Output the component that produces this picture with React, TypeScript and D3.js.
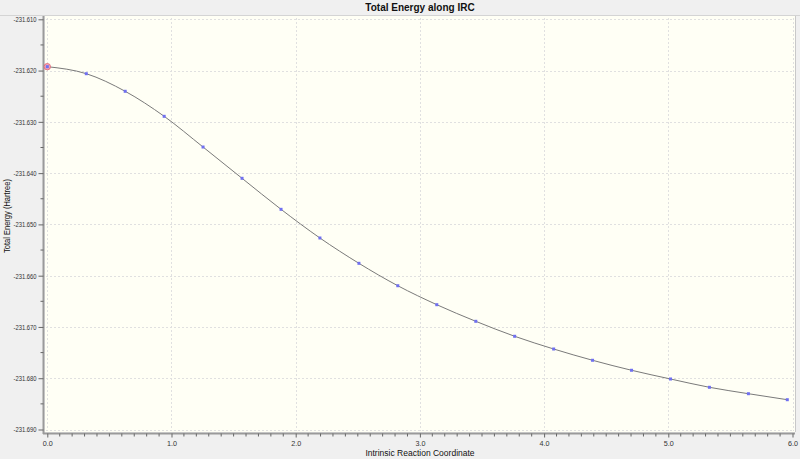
import { useEffect, useRef } from 'react';
import * as d3 from 'd3';

const ircCoord = [
  0.0, 0.314, 0.627, 0.941, 1.254, 1.568, 1.882, 2.195, 2.509, 2.822,
  3.136, 3.45, 3.763, 4.077, 4.39, 4.704, 5.018, 5.331, 5.645, 5.958,
];
const totalEnergy = [
  -231.61924, -231.62061, -231.62404, -231.62892, -231.63491, -231.64101,
  -231.64706, -231.65265, -231.65759, -231.66196, -231.66566, -231.6689,
  -231.67182, -231.6743, -231.6765, -231.67845, -231.68015, -231.68177,
  -231.68302, -231.68419,
];
const xTicks = [0, 1, 2, 3, 4, 5, 6];
const yTicks = [-231.61, -231.62, -231.63, -231.64, -231.65, -231.66, -231.67, -231.68, -231.69];

const W = 800;
const H = 459;
const FONT = '"Liberation Sans", Arial, sans-serif';

export default function App() {
  const svgRef = useRef<SVGSVGElement | null>(null);

  useEffect(() => {
    const el = svgRef.current;
    if (!el) return;
    const svg = d3.select(el);
    svg.selectAll('*').remove();

    const plot = { left: 45, right: 795, top: 16, bottom: 432 };
    const x = d3.scaleLinear().domain([0, 6]).range([47.3, 792.5]);
    const y = d3.scaleLinear().domain([-231.69, -231.61]).range([429.5, 19.3]);
    const fmtY = (d: number) => d.toFixed(3);

    // background
    svg.append('rect').attr('width', W).attr('height', H).attr('fill', '#f0f0f0');
    svg.append('line')
      .attr('x1', 0).attr('x2', W).attr('y1', 15.5).attr('y2', 15.5)
      .attr('stroke', '#d4d4d4');
    svg.append('rect')
      .attr('x', plot.left).attr('y', plot.top)
      .attr('width', plot.right - plot.left).attr('height', plot.bottom - plot.top)
      .attr('fill', '#fffff5');
    svg.append('line')
      .attr('x1', plot.right + 0.5).attr('x2', plot.right + 0.5)
      .attr('y1', plot.top).attr('y2', plot.bottom)
      .attr('stroke', '#c8c8c8');

    // title
    svg.append('text')
      .attr('x', 420).attr('y', 11)
      .attr('text-anchor', 'middle')
      .attr('font-family', FONT).attr('font-size', 10).attr('font-weight', 'bold')
      .attr('fill', '#111')
      .text('Total Energy along IRC');

    // grid
    const grid = svg.append('g')
      .attr('stroke', '#e0e0e0').attr('stroke-dasharray', '2,2').attr('stroke-width', 1);
    xTicks.forEach((t) => {
      grid.append('line')
        .attr('x1', Math.round(x(t)) + 0.5).attr('x2', Math.round(x(t)) + 0.5)
        .attr('y1', plot.top + 2).attr('y2', plot.bottom - 1);
    });
    yTicks.forEach((t) => {
      grid.append('line')
        .attr('x1', plot.left + 1).attr('x2', plot.right - 1)
        .attr('y1', Math.round(y(t)) + 0.5).attr('y2', Math.round(y(t)) + 0.5);
    });

    // y axis
    const yAxis = svg.append('g')
      .attr('transform', 'translate(43.5,0)')
      .call(d3.axisLeft(y).tickValues(yTicks).tickSize(5).tickPadding(2).tickFormat(fmtY as any));
    yAxis.select('.domain').attr('stroke', '#9a9a9a').attr('stroke-width', 2)
      .attr('d', `M0,${plot.top}V${plot.bottom + 2}`);
    yAxis.selectAll('.tick line').attr('stroke', '#666');
    yAxis.selectAll('.tick text')
      .attr('font-family', FONT).attr('font-size', 7.5).attr('fill', '#333')
      .attr('textLength', 23).attr('lengthAdjust', 'spacingAndGlyphs');
    yAxis.append('g').selectAll('line')
      .data(yTicks.slice(1).map((t) => t + 0.005))
      .join('line')
      .attr('x1', -3).attr('x2', 0)
      .attr('y1', (d) => y(d)).attr('y2', (d) => y(d))
      .attr('stroke', '#666');

    // x axis
    const xAxis = svg.append('g')
      .attr('transform', 'translate(0,433.5)')
      .call(d3.axisBottom(x).tickValues(xTicks).tickSize(4).tickPadding(3).tickFormat(d3.format('.1f')));
    xAxis.select('.domain').attr('stroke', '#9a9a9a').attr('stroke-width', 2)
      .attr('d', `M${plot.left - 2},0H${plot.right}`);
    xAxis.selectAll('.tick line').attr('stroke', '#666');
    xAxis.selectAll('.tick text')
      .attr('font-family', FONT).attr('font-size', 7.5).attr('fill', '#333')
      .attr('textLength', 10).attr('lengthAdjust', 'spacingAndGlyphs');
    xAxis.append('g').selectAll('line')
      .data(d3.range(0, 61).filter((i) => i % 10 !== 0).map((i) => i / 10))
      .join('line')
      .attr('x1', (d) => x(d)).attr('x2', (d) => x(d))
      .attr('y1', 0).attr('y2', 3)
      .attr('stroke', '#666');

    // axis titles
    svg.append('text')
      .attr('x', 420).attr('y', 456)
      .attr('text-anchor', 'middle')
      .attr('font-family', FONT).attr('font-size', 8.5).attr('fill', '#111')
      .text('Intrinsic Reaction Coordinate');
    svg.append('text')
      .attr('transform', 'translate(10,216) rotate(-90)')
      .attr('text-anchor', 'middle')
      .attr('font-family', FONT).attr('font-size', 8.5).attr('fill', '#111')
      .attr('textLength', 74).attr('lengthAdjust', 'spacingAndGlyphs')
      .text('Total Energy (Hartree)');

    // data
    const data = ircCoord.map((c, i) => ({ c, e: totalEnergy[i] }));
    const line = d3.line<{ c: number; e: number }>()
      .x((d) => x(d.c))
      .y((d) => y(d.e))
      .curve(d3.curveMonotoneX);
    svg.append('path')
      .datum(data)
      .attr('fill', 'none')
      .attr('stroke', '#7a7a7a')
      .attr('stroke-width', 1)
      .attr('d', line);

    const first = data[0];
    svg.append('circle')
      .attr('cx', x(first.c)).attr('cy', y(first.e)).attr('r', 3.2)
      .attr('fill', '#f4a8b8').attr('stroke', '#e06070').attr('stroke-width', 0.8);

    svg.append('g').selectAll('rect')
      .data(data)
      .join('rect')
      .attr('x', (d) => x(d.c) - 1.5)
      .attr('y', (d) => y(d.e) - 1.5)
      .attr('width', 3).attr('height', 3)
      .attr('fill', '#7070f0');
  }, []);

  return (
    <svg
      ref={svgRef}
      width={W}
      height={H}
      style={{ position: 'fixed', left: 0, top: 0, display: 'block' }}
    />
  );
}
